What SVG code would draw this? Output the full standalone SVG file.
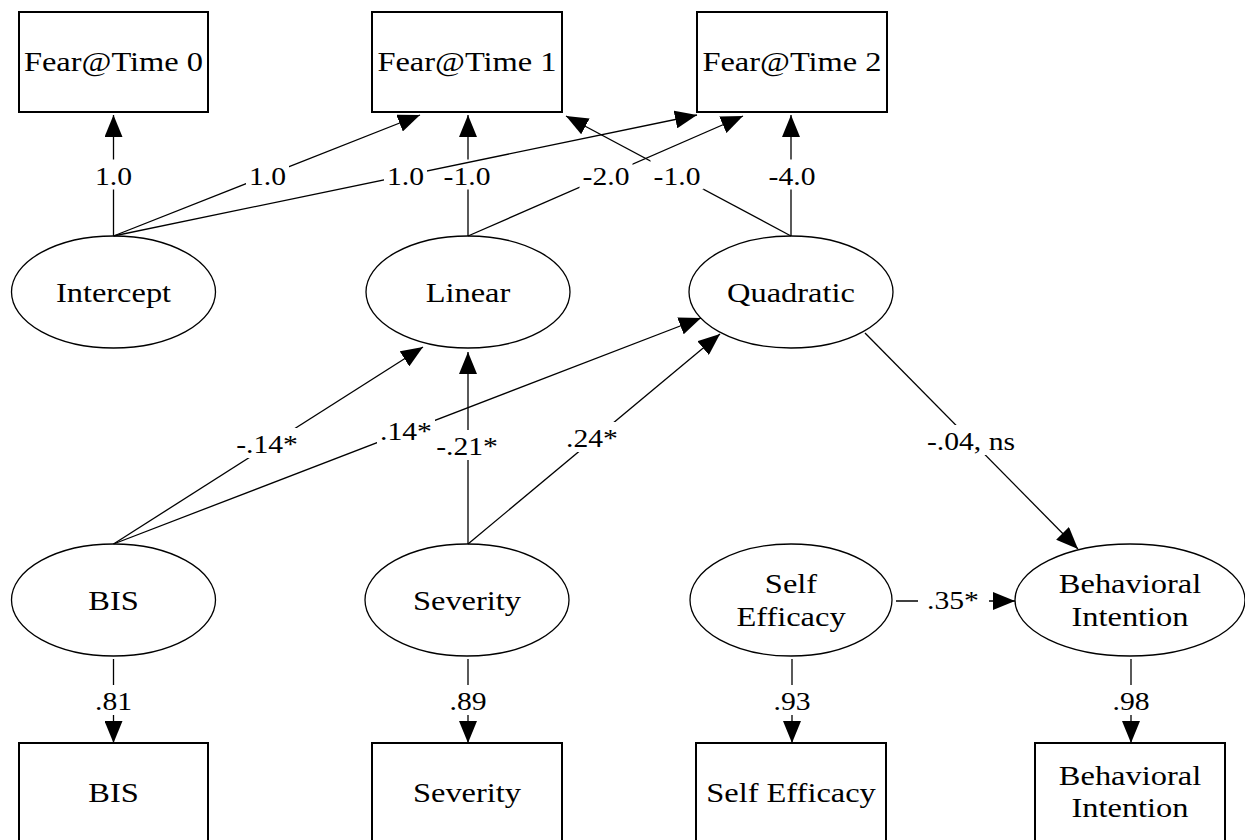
<svg xmlns="http://www.w3.org/2000/svg" width="1245" height="840" viewBox="0 0 1245 840">
<style>
.box{fill:#fff;stroke:#000;stroke-width:2}
.ell{fill:#fff;stroke:#000;stroke-width:1.3}
.n{font-family:"Liberation Serif","Times New Roman",serif;font-size:27.5px;text-anchor:middle;fill:#000}
.l{font-family:"Liberation Serif","Times New Roman",serif;font-size:24.5px;text-anchor:middle;fill:#000}
.e{stroke:#000;stroke-width:1.3;fill:none}
.bg{fill:#fff}
</style>
<defs>
<marker id="ah" markerUnits="userSpaceOnUse" markerWidth="22" markerHeight="18" refX="22" refY="9" orient="auto" viewBox="0 0 22 18"><path d="M0,0L22,9L0,18Z" fill="#000"/></marker>
</defs>
<rect width="1245" height="840" fill="#fff"/>

<g id="fear0"><rect class="box" x="19" y="12" width="189" height="100"/><text class="n" transform="translate(113.5,71) scale(1.18,1)">Fear@Time 0</text></g>
<g id="fear1"><rect class="box" x="372" y="12" width="190" height="100"/><text class="n" transform="translate(467,71) scale(1.18,1)">Fear@Time 1</text></g>
<g id="fear2"><rect class="box" x="697" y="12" width="190" height="100"/><text class="n" transform="translate(792,71) scale(1.18,1)">Fear@Time 2</text></g>

<g id="intercept"><ellipse class="ell" cx="113.5" cy="292" rx="102" ry="56"/><text class="n" transform="translate(113.5,302) scale(1.18,1)">Intercept</text></g>
<g id="linear"><ellipse class="ell" cx="468" cy="292" rx="102" ry="56"/><text class="n" transform="translate(468,302) scale(1.18,1)">Linear</text></g>
<g id="quadratic"><ellipse class="ell" cx="791" cy="292" rx="102" ry="56"/><text class="n" transform="translate(791,302) scale(1.18,1)">Quadratic</text></g>

<g id="bis"><ellipse class="ell" cx="113.5" cy="600" rx="102" ry="56"/><text class="n" transform="translate(113.5,610) scale(1.18,1)">BIS</text></g>
<g id="severity"><ellipse class="ell" cx="467" cy="600" rx="102" ry="56"/><text class="n" transform="translate(467,610) scale(1.18,1)">Severity</text></g>
<g id="selfefficacy"><ellipse class="ell" cx="791" cy="600" rx="101" ry="56"/><text class="n" transform="translate(791,593) scale(1.18,1)">Self</text><text class="n" transform="translate(791,626) scale(1.18,1)">Efficacy</text></g>
<g id="behavioral"><ellipse class="ell" cx="1130" cy="600" rx="115" ry="56"/><text class="n" transform="translate(1130,593) scale(1.18,1)">Behavioral</text><text class="n" transform="translate(1130,626) scale(1.18,1)">Intention</text></g>

<g id="bis_box"><rect class="box" x="19" y="743" width="189" height="100"/><text class="n" transform="translate(113.5,802) scale(1.18,1)">BIS</text></g>
<g id="severity_box"><rect class="box" x="372" y="743" width="190" height="100"/><text class="n" transform="translate(467,802) scale(1.18,1)">Severity</text></g>
<g id="selfefficacy_box"><rect class="box" x="696" y="743" width="190" height="100"/><text class="n" transform="translate(791,802) scale(1.18,1)">Self Efficacy</text></g>
<g id="behavioral_box"><rect class="box" x="1035" y="743" width="190" height="100"/><text class="n" transform="translate(1130,785) scale(1.18,1)">Behavioral</text><text class="n" transform="translate(1130,817) scale(1.18,1)">Intention</text></g>

<g id="connectors">
<path class="e" d="M113.5,236L113.5,115" marker-end="url(#ah)"/>
<rect class="bg" x="92" y="159.5" width="43" height="30"/><text class="l" transform="translate(113.5,184.5) scale(1.21,1)">1.0</text>

<path class="e" d="M113.5,236L420,115" marker-end="url(#ah)"/>
<rect class="bg" x="246" y="159.5" width="43" height="30"/><text class="l" transform="translate(267.5,184.5) scale(1.21,1)">1.0</text>

<path class="e" d="M468,236L468,115" marker-end="url(#ah)"/>
<rect class="bg" x="440.5" y="159.5" width="53" height="30"/><text class="l" transform="translate(467,184.5) scale(1.21,1)">-1.0</text>

<path class="e" d="M113.5,236L697,115" marker-end="url(#ah)"/>
<rect class="bg" x="384" y="159.5" width="43" height="30"/><text class="l" transform="translate(405.5,184.5) scale(1.21,1)">1.0</text>

<path class="e" d="M468,236L743,116" marker-end="url(#ah)"/>
<rect class="bg" x="579.5" y="159.5" width="53" height="30"/><text class="l" transform="translate(606,184.5) scale(1.21,1)">-2.0</text>

<path class="e" d="M791,236L566,116" marker-end="url(#ah)"/>
<rect class="bg" x="650.5" y="159.5" width="53" height="30"/><text class="l" transform="translate(677,184.5) scale(1.21,1)">-1.0</text>

<path class="e" d="M791,236L791,115" marker-end="url(#ah)"/>
<rect class="bg" x="765.5" y="159.5" width="53" height="30"/><text class="l" transform="translate(792,184.5) scale(1.21,1)">-4.0</text>

<path class="e" d="M113.5,544L423,347" marker-end="url(#ah)"/>
<rect class="bg" x="233" y="428" width="68" height="30"/><text class="l" transform="translate(267,453) scale(1.21,1)">-.14*</text>

<path class="e" d="M113.5,544L701,318" marker-end="url(#ah)"/>
<rect class="bg" x="377" y="415" width="58" height="30"/><text class="l" transform="translate(406,440) scale(1.21,1)">.14*</text>

<path class="e" d="M468,544L468,352" marker-end="url(#ah)"/>
<rect class="bg" x="433" y="430" width="68" height="30"/><text class="l" transform="translate(467,455) scale(1.21,1)">-.21*</text>

<path class="e" d="M468,544L720,334" marker-end="url(#ah)"/>
<rect class="bg" x="563" y="422" width="58" height="30"/><text class="l" transform="translate(592,447) scale(1.21,1)">.24*</text>

<path class="e" d="M865,333L1078,549" marker-end="url(#ah)"/>
<rect class="bg" x="924" y="425" width="94" height="30"/><text class="l" transform="translate(971,450) scale(1.21,1)">-.04, ns</text>

<path class="e" d="M896,601L1015,601" marker-end="url(#ah)"/>
<rect class="bg" x="918" y="584" width="71" height="30"/><text class="l" transform="translate(953,609) scale(1.21,1)">.35*</text>

<path class="e" d="M113.5,659L113.5,743" marker-end="url(#ah)"/>
<rect class="bg" x="92" y="685" width="43" height="30"/><text class="l" transform="translate(113.5,710) scale(1.21,1)">.81</text>

<path class="e" d="M468,659L468,743" marker-end="url(#ah)"/>
<rect class="bg" x="446.5" y="685" width="43" height="30"/><text class="l" transform="translate(468,710) scale(1.21,1)">.89</text>

<path class="e" d="M792,659L792,743" marker-end="url(#ah)"/>
<rect class="bg" x="770.5" y="685" width="43" height="30"/><text class="l" transform="translate(792,710) scale(1.21,1)">.93</text>

<path class="e" d="M1131,659L1131,743" marker-end="url(#ah)"/>
<rect class="bg" x="1109.5" y="685" width="43" height="30"/><text class="l" transform="translate(1131,710) scale(1.21,1)">.98</text>
</g>
</svg>
